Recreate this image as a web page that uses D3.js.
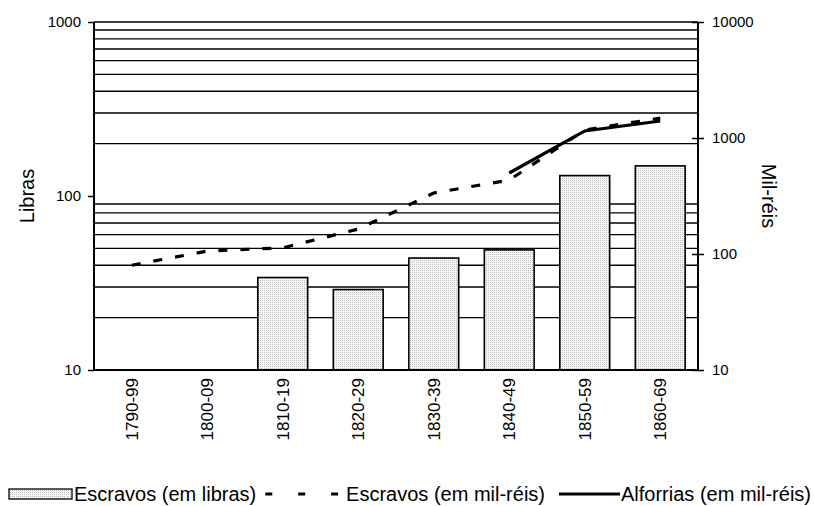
<!DOCTYPE html>
<html>
<head>
<meta charset="utf-8">
<script src="https://cdn.jsdelivr.net/npm/d3@7"></script>
<style>
  body { margin: 0; background: #fff; }
  text { font-family: "Liberation Sans", Arial, sans-serif; fill: #000; }
</style>
</head>
<body>
<svg id="chart" width="814" height="506"></svg>
<script>
// decades on the x axis
const decades = ["1790-99", "1800-09", "1810-19", "1820-29", "1830-39", "1840-49", "1850-59", "1860-69"];
// bars, left axis (libras)
const escravosLibras = [null, null, 34, 29, 44, 49, 131, 149];
// lines, right axis (mil-réis)
const escravosMilReis = [80, 106, 113, 164, 336, 434, 1172, 1486];
const alforriasMilReis = [null, null, null, null, null, 499, 1150, 1402];
// axis ticks
const leftTicks = [10, 100, 1000];
const rightTicks = [10, 100, 1000, 10000];
const gridValues = [20, 30, 40, 50, 60, 70, 80, 90, 200, 300, 400, 500, 600, 700, 800, 900, 1000];

const svg = d3.select("#chart");
const plotLeft = 94, plotRight = 698, plotTop = 22, plotBottom = 370;

const x = d3.scaleBand().domain(decades).range([plotLeft, plotRight]).paddingInner(0.34).paddingOuter(0.17);
const yL = d3.scaleLog().domain([10, 1000]).range([plotBottom, plotTop]);
const yR = d3.scaleLog().domain([10, 10000]).range([plotBottom, plotTop]);

// dotted fill for the bars
const defs = svg.append("defs");
const pat = defs.append("pattern")
    .attr("id", "dots")
    .attr("patternUnits", "userSpaceOnUse")
    .attr("width", 2).attr("height", 2);
pat.append("rect").attr("width", 2).attr("height", 2).attr("fill", "#f6f6f6");
pat.append("rect").attr("width", 1).attr("height", 1).attr("fill", "#bdbdbd");

// gridlines
svg.append("g").selectAll("line")
    .data(gridValues)
    .enter().append("line")
    .attr("x1", plotLeft).attr("x2", plotRight)
    .attr("y1", d => yL(d)).attr("y2", d => yL(d))
    .attr("stroke", "#000").attr("stroke-width", 1.4);

// bars
svg.append("g").selectAll("rect")
    .data(decades.map((d, i) => ({ d, v: escravosLibras[i] })).filter(e => e.v != null))
    .enter().append("rect")
    .attr("x", e => x(e.d))
    .attr("y", e => yL(e.v))
    .attr("width", x.bandwidth())
    .attr("height", e => plotBottom - yL(e.v))
    .attr("fill", "url(#dots)")
    .attr("stroke", "#000").attr("stroke-width", 1.6);

// left axis
const axL = svg.append("g")
    .attr("transform", `translate(${plotLeft},0)`)
    .call(d3.axisLeft(yL).tickValues(leftTicks).tickFormat(d3.format("d")).tickSize(6).tickPadding(7));
// right axis
const axR = svg.append("g")
    .attr("transform", `translate(${plotRight},0)`)
    .call(d3.axisRight(yR).tickValues(rightTicks).tickFormat(d3.format("d")).tickSize(6).tickPadding(8));
axR.selectAll(".tick line").attr("x1", -6);
// bottom axis
const axB = svg.append("g")
    .attr("transform", `translate(0,${plotBottom})`)
    .call(d3.axisBottom(x).tickSize(0).tickPadding(8));

[axL, axR, axB].forEach(ax => {
    ax.select(".domain").attr("stroke", "#000").attr("stroke-width", 2);
    ax.selectAll(".tick line").attr("stroke", "#000").attr("stroke-width", 1.5);
    ax.selectAll(".tick text").style("font-size", "15px").attr("fill", "#000")
        .style("font-family", "'Liberation Sans', Arial, sans-serif");
});
axB.selectAll(".tick text")
    .style("font-size", "17px")
    .attr("transform", "rotate(-90)")
    .attr("text-anchor", "end")
    .attr("x", -8).attr("y", 0).attr("dy", "0.35em");
axL.select(".domain").attr("d", `M0,${plotBottom}V${plotTop}`);
axR.select(".domain").attr("d", `M0,${plotBottom}V${plotTop}`);
axB.select(".domain").attr("d", `M${plotLeft},0H${plotRight}`);

// lines
const cx = d => x(d) + x.bandwidth() / 2;
const lineGen = d3.line()
    .defined(e => e.v != null)
    .x(e => cx(e.d))
    .y(e => yR(e.v));

svg.append("path")
    .datum(decades.map((d, i) => ({ d, v: escravosMilReis[i] })))
    .attr("d", lineGen)
    .attr("fill", "none").attr("stroke", "#000")
    .attr("stroke-width", 3.2).attr("stroke-dasharray", "9,13");

svg.append("path")
    .datum(decades.map((d, i) => ({ d, v: alforriasMilReis[i] })))
    .attr("d", lineGen)
    .attr("fill", "none").attr("stroke", "#000")
    .attr("stroke-width", 3.2);

// axis titles
const midY = (plotTop + plotBottom) / 2;
svg.append("text")
    .attr("transform", `translate(27,${midY}) rotate(-90)`)
    .attr("text-anchor", "middle").attr("dy", "0.35em")
    .style("font-size", "20px")
    .text("Libras");
svg.append("text")
    .attr("transform", `translate(769,${midY}) rotate(90)`)
    .attr("text-anchor", "middle").attr("dy", "0.35em")
    .style("font-size", "20px")
    .text("Mil-réis");

// legend
const lg = svg.append("g").attr("transform", "translate(0,494)");
const fs = "20px";
lg.append("rect").attr("x", 9).attr("y", -5).attr("width", 63).attr("height", 10)
    .attr("fill", "url(#dots)").attr("stroke", "#000").attr("stroke-width", 1.3);
const t1 = lg.append("text").attr("x", 74).attr("y", 0).attr("dy", "0.35em").style("font-size", fs)
    .text("Escravos (em libras)");
const t3 = lg.append("text").attr("x", 811).attr("y", 0).attr("dy", "0.35em").attr("text-anchor", "end")
    .style("font-size", fs).text("Alforrias (em mil-réis)");
const t3Start = 811 - t3.node().getComputedTextLength();
lg.append("line").attr("x1", t3Start - 62).attr("x2", t3Start - 1).attr("y1", 0).attr("y2", 0)
    .attr("stroke", "#000").attr("stroke-width", 3.2);
const t2 = lg.append("text").attr("x", t3Start - 76).attr("y", 0).attr("dy", "0.35em").attr("text-anchor", "end")
    .style("font-size", fs).text("Escravos (em mil-réis)");
const t2Start = t3Start - 76 - t2.node().getComputedTextLength();
const t1End = 74 + t1.node().getComputedTextLength();
lg.append("line").attr("x1", t1End + 9).attr("x2", t2Start - 8).attr("y1", 0).attr("y2", 0)
    .attr("stroke", "#000").attr("stroke-width", 3.2)
    .attr("stroke-dasharray", `7,${((t2Start - 8) - (t1End + 9) - 21) / 2}`);
</script>
</body>
</html>
